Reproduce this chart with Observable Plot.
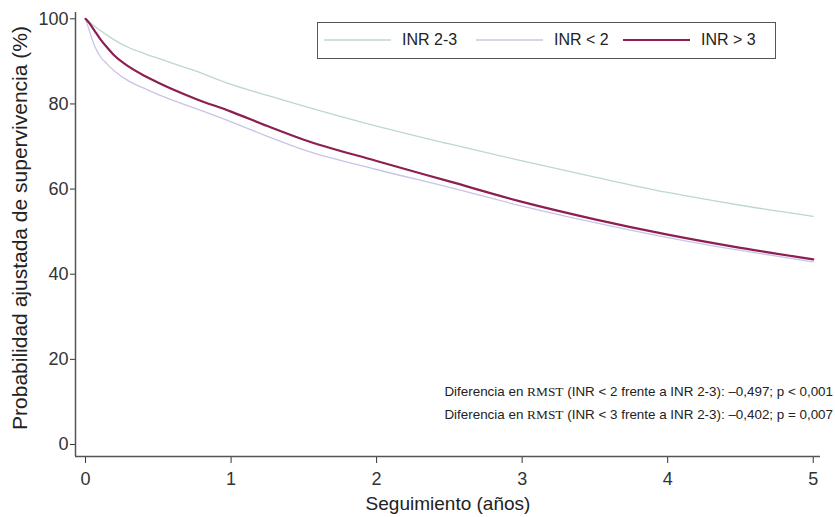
<!DOCTYPE html>
<html><head><meta charset="utf-8">
<script src="https://cdn.jsdelivr.net/npm/d3@7"></script>
<script src="https://cdn.jsdelivr.net/npm/@observablehq/plot@0.6"></script>
<style>
body{margin:0;background:#fff;font-family:"Liberation Sans",Arial,Helvetica,sans-serif;color:#222;}
#wrap{position:relative;width:835px;height:517px;overflow:hidden;}
#wrap > svg{position:absolute;left:0;top:0;}
.ylab{position:absolute;left:20px;top:228px;transform:translate(-50%,-50%) rotate(-90deg);white-space:nowrap;font-size:21px;color:#222;}
.xlab{position:absolute;left:448px;top:504px;transform:translate(-50%,-50%);white-space:nowrap;font-size:19px;color:#222;}
.legend{position:absolute;left:317px;top:22px;width:459px;height:37px;box-sizing:border-box;border:1.5px solid #555;background:#fff;}
.legend .item{position:absolute;top:0;height:34px;display:flex;align-items:center;white-space:nowrap;font-size:16px;color:#222;}
.legend .sw{width:67px;height:6px;margin-right:11px;display:block;}
.note{position:absolute;right:2px;top:380px;text-align:right;font-size:13.4px;line-height:23px;color:#222;white-space:nowrap;}
.note .serif{font-family:"Liberation Serif","Times New Roman",serif;}
</style></head><body><div id="wrap"></div>
<script>
// Follow-up time (years)
const years  = [0, 0.03, 0.06, 0.1, 0.15, 0.2, 0.3, 0.4, 0.5, 0.75, 1, 1.25, 1.5, 2, 2.5, 3, 3.5, 4, 4.5, 5];
// Adjusted survival probability (%)
const inr23  = [100, 99.2, 98.3, 97.3, 96.1, 95.0, 93.2, 91.9, 90.7, 87.8, 84.6, 82.0, 79.5, 74.8, 70.6, 66.6, 62.8, 59.2, 56.2, 53.6];
const inrLt2 = [100, 96.8, 93.8, 91.2, 89.3, 87.7, 85.3, 83.7, 82.2, 79.0, 75.8, 72.4, 69.2, 64.6, 60.4, 56.0, 52.1, 48.6, 45.6, 42.9];
const inrGt3 = [100, 98.8, 97.3, 95.3, 93.2, 91.3, 88.7, 86.7, 85.0, 81.3, 78.2, 74.8, 71.6, 66.6, 61.8, 57.0, 52.9, 49.3, 46.2, 43.5];

const seriesNames  = ["INR 2-3", "INR < 2", "INR > 3"];
const seriesValues = [inr23, inrLt2, inrGt3];
const seriesColors = ["#bcd9c7", "#c8c4e8", "#8c1f50"];
const seriesWidths = [1.3, 1.3, 2.2];

const xTicks = [0, 1, 2, 3, 4, 5];
const yTicks = [0, 20, 40, 60, 80, 100];
const xDomain = [-0.069, 5.05];
const yDomain = [-2.82, 101.48];

const xTitle = "Seguimiento (años)";
const yTitle = "Probabilidad ajustada de supervivencia (%)";
const notes = [
  ["Diferencia en ", "RMST", " (INR < 2 frente a INR 2-3): \u20130,497; p < 0,001"],
  ["Diferencia en ", "RMST", " (INR < 3 frente a INR 2-3): \u20130,402; p = 0,007"]
];

const rows = seriesNames.flatMap((name, i) =>
  years.map((t, j) => ({t, s: seriesValues[i][j], series: name})));

const lineMarks = seriesNames.map((name, i) =>
  Plot.line(rows.filter(d => d.series === name), {
    x: "t", y: "s", stroke: seriesColors[i], strokeWidth: seriesWidths[i], curve: "monotone-x"
  }));

const chart = Plot.plot({
  width: 835, height: 517,
  marginLeft: 75, marginRight: 15, marginTop: 12, marginBottom: 61,
  style: {fontSize: "18px", fontFamily: "'Liberation Sans', Arial, sans-serif", color: "#333", background: "transparent"},
  x: {domain: xDomain, ticks: xTicks, tickSize: 7, tickPadding: 9, tickFormat: d => String(d), label: null},
  y: {domain: yDomain, ticks: yTicks, tickSize: 5, tickPadding: 2, tickFormat: d => String(d), label: null},
  marks: [
    Plot.ruleX([xDomain[0]], {stroke: "#555", strokeWidth: 1.5}),
    Plot.ruleY([yDomain[0]], {stroke: "#555", strokeWidth: 1.5}),
    ...lineMarks
  ]
});

const wrap = document.getElementById("wrap");
wrap.appendChild(chart);

const yl = document.createElement("div"); yl.className = "ylab"; yl.textContent = yTitle; wrap.appendChild(yl);
const xl = document.createElement("div"); xl.className = "xlab"; xl.textContent = xTitle; wrap.appendChild(xl);

const legend = document.createElement("div"); legend.className = "legend";
const itemLeft = [6, 158, 305];
seriesNames.forEach((name, i) => {
  const it = document.createElement("div"); it.className = "item"; it.style.left = itemLeft[i] + "px";
  it.innerHTML = `<svg class="sw" width="67" height="6"><line x1="0" x2="67" y1="3" y2="3" stroke="${seriesColors[i]}" stroke-width="${seriesWidths[i]}"/></svg>`;
  const sp = document.createElement("span"); sp.textContent = name; it.appendChild(sp);
  legend.appendChild(it);
});
wrap.appendChild(legend);

const note = document.createElement("div"); note.className = "note";
notes.forEach(parts => {
  const line = document.createElement("div");
  parts.forEach((p, k) => { const s = document.createElement("span"); if (k === 1) s.className = "serif"; s.textContent = p; line.appendChild(s); });
  note.appendChild(line);
});
wrap.appendChild(note);
</script>
</body></html>
